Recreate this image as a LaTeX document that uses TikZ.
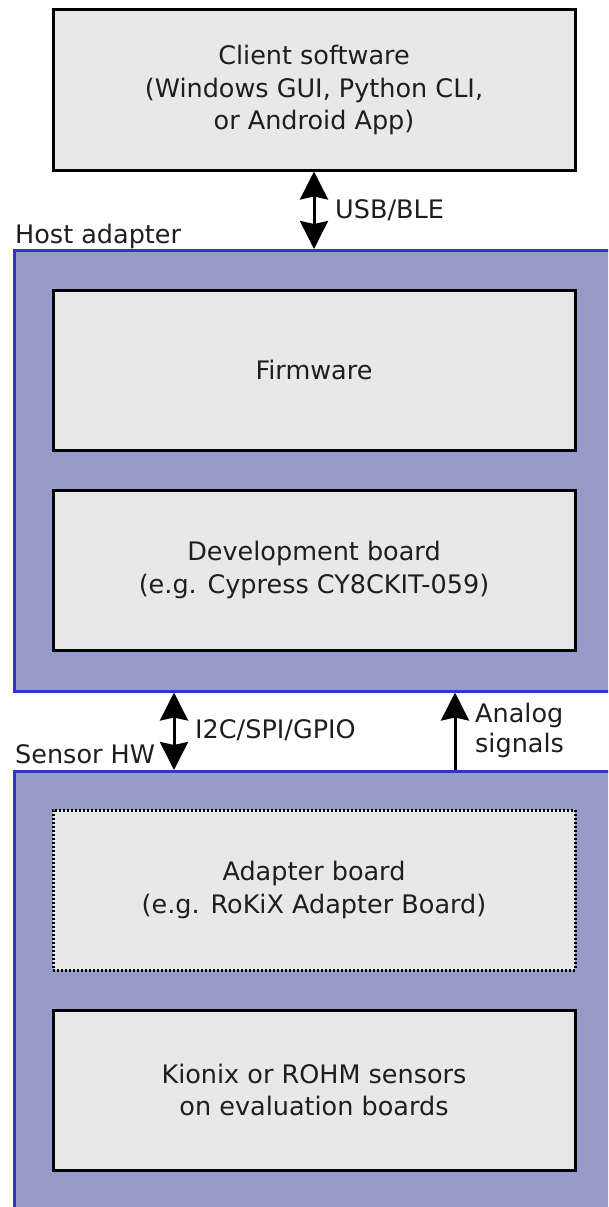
\documentclass[tikz,border=0pt]{standalone}
\usepackage{fontspec}
\setmainfont{DejaVu Sans}
\usetikzlibrary{arrows.meta}

\definecolor{boxgray}{RGB}{232,232,232}
\definecolor{groupfill}{RGB}{150,155,200}
\definecolor{groupline}{RGB}{45,55,195}
\definecolor{textgray}{RGB}{30,30,30}

\tikzset{
  group/.style={draw=groupline, fill=groupfill, line width=2.5pt, anchor=north west,
    minimum width=640pt, minimum height=441pt, inner sep=0pt},
  box/.style={draw=black, fill=boxgray, line width=3pt, minimum width=522pt,
    minimum height=160pt, align=center, text=textgray},
  dottedbox/.style={box, line width=3pt, dash pattern=on 2pt off 2pt},
  label/.style={text=textgray, inner sep=0pt},
  conn/.style={line width=3pt, {Stealth[length=28pt,width=28pt,inset=3pt]}-{Stealth[length=28pt,width=28pt,inset=3pt]}},
  upconn/.style={line width=3pt, -{Stealth[length=28pt,width=28pt,inset=3pt]}},
}

\begin{document}
\begin{tikzpicture}[x=1pt, y=-1pt, font=\fontsize{25.5}{32.5}\selectfont]

  \useasboundingbox (0,0) rectangle (608,1207);
  \clip (0,0) rectangle (608,1207);

  % groups
  \node[group] (host)   at (13,249) {};
  \node[group, minimum height=480pt] (sensor) at (13,770) {};

  \begin{scope}[every node/.style={box}]
    \node (client)   at (314,90)   {Client software\\(Windows GUI, Python CLI,\\or Android App)};
    \node (firmware) at (314,370)  {Firmware};
    \node (devboard) at (314,570)  {Development board\\(e.g. Cypress CY8CKIT-059)};
    \node[dottedbox] (adapter) at (314,890) {Adapter board\\(e.g. RoKiX Adapter Board)};
    \node (sensors)  at (314,1090) {Kionix or ROHM sensors\\on evaluation boards};
  \end{scope}

  % connectors
  \coordinate (bus)    at (174,0);
  \coordinate (analog) at (455,0);
  \draw[conn]   (client.south) -- (client.south |- host.north);
  \draw[conn]   (bus |- host.south) -- (bus |- sensor.north);
  \draw[upconn] (analog |- sensor.north) -- (analog |- host.south);

  \begin{scope}[every node/.style={label}]
    \node[anchor=west] (usb) at (335,210) {USB/BLE};
    \node[anchor=west] (i2c) at (195,730) {I2C/SPI/GPIO};
    \node[anchor=west, align=left, font=\fontsize{25.5}{30}\selectfont] (analogtxt) at (475,730) {Analog\\signals};
    \node[anchor=base west] (hosttxt)   at (15,243) {Host adapter};
    \node[anchor=base west] (sensortxt) at (15,763) {Sensor HW};
  \end{scope}

\end{tikzpicture}
\end{document}
